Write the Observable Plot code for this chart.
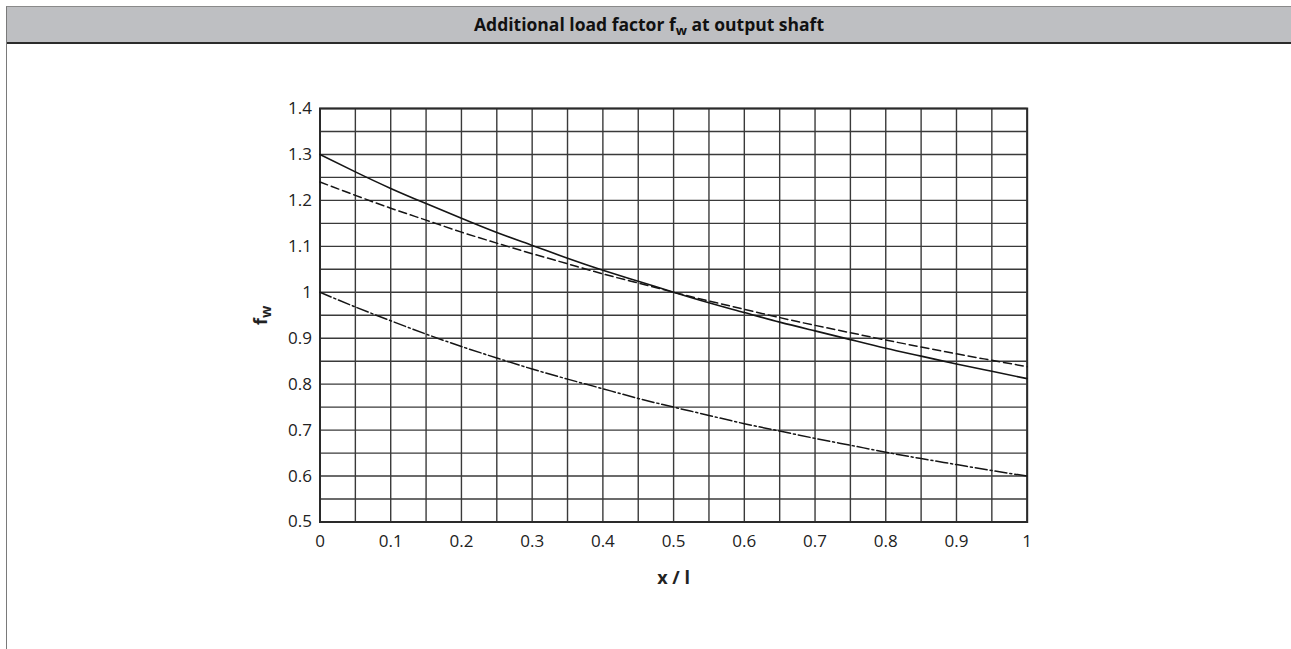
<!DOCTYPE html>
<html><head><meta charset="utf-8">
<script src="https://cdn.jsdelivr.net/npm/d3@7"></script>
<script src="https://cdn.jsdelivr.net/npm/@observablehq/plot@0.6"></script>
<style>
html,body{margin:0;padding:0;background:#fff;width:1291px;height:649px;overflow:hidden;font-family:"Open Sans",sans-serif;}
#box{position:absolute;left:6px;top:6px;right:0;bottom:0;border-left:1.5px solid #7a7a7a;border-top:1px solid #8a8a8a;}
#hdr{height:35px;background:#bebfc2;border-bottom:2px solid #2b2b2b;text-align:center;font-weight:700;font-size:17.5px;line-height:34px;color:#111;}
#hdr sub{font-size:0.75em;line-height:0;vertical-align:-0.3em;}
#chart{position:absolute;left:0;top:50px;}
#chart g[aria-label="x-axis label"] text,#chart g[aria-label="y-axis label"] text{font-weight:700;font-size:18px;}
</style></head>
<body>
<div id="box"><div id="hdr">Additional load factor f<sub>w</sub> at output shaft</div></div>
<div id="chart"></div>
<script>
const xs      = [0,0.05,0.1,0.15,0.2,0.25,0.3,0.35,0.4,0.45,0.5,0.55,0.6,0.65,0.7,0.75,0.8,0.85,0.9,0.95,1];
const solid   = [1.300,1.262,1.226,1.193,1.161,1.130,1.102,1.074,1.048,1.024,1.000,0.977,0.956,0.935,0.916,0.897,0.878,0.861,0.844,0.828,0.812];
const dashed  = [1.240,1.211,1.183,1.157,1.131,1.107,1.084,1.062,1.040,1.020,1.000,0.981,0.963,0.945,0.928,0.912,0.896,0.881,0.866,0.852,0.838];
const dashDot = [1.000,0.968,0.938,0.909,0.882,0.857,0.833,0.811,0.790,0.769,0.750,0.732,0.714,0.698,0.682,0.667,0.652,0.638,0.625,0.612,0.600];
const xTicks  = [0,0.1,0.2,0.3,0.4,0.5,0.6,0.7,0.8,0.9,1];
const yTicks  = [0.5,0.6,0.7,0.8,0.9,1,1.1,1.2,1.3,1.4];
const xGrid   = [0,0.05,0.1,0.15,0.2,0.25,0.3,0.35,0.4,0.45,0.5,0.55,0.6,0.65,0.7,0.75,0.8,0.85,0.9,0.95,1];
const yGrid   = [0.5,0.55,0.6,0.65,0.7,0.75,0.8,0.85,0.9,0.95,1,1.05,1.1,1.15,1.2,1.25,1.3,1.35,1.4];

const tbl = arr => xs.map((x,i)=>({x, y:arr[i]}));
const fmt = d => String(d);

const chart = Plot.plot({
  width:1291, height:599,
  marginTop:58, marginBottom:127.5, marginLeft:319.5, marginRight:264.3,
  style:{fontFamily:'"Open Sans", sans-serif', fontSize:"17px", color:"#222", background:"transparent"},
  x:{domain:[0,1], ticks:xTicks, tickFormat:fmt, tickSize:0, tickPadding:13, label:"x / l", labelAnchor:"center", labelArrow:"none", labelOffset:62},
  y:{domain:[0.5,1.4], ticks:yTicks, tickFormat:fmt, tickSize:0, tickPadding:8, label:"fw", labelAnchor:"center", labelArrow:"none", labelOffset:66},
  marks:[
    Plot.gridX(xGrid, {stroke:"#3a3a3a", strokeOpacity:1, strokeWidth:1.4}),
    Plot.gridY(yGrid, {stroke:"#3a3a3a", strokeOpacity:1, strokeWidth:1.4}),
    Plot.frame({stroke:"#2a2a2a", strokeWidth:2}),
    Plot.line(tbl(solid),   {x:"x", y:"y", curve:"natural", stroke:"#151515", strokeWidth:1.6}),
    Plot.line(tbl(dashed),  {x:"x", y:"y", curve:"natural", stroke:"#151515", strokeWidth:1.5, strokeDasharray:"8,4"}),
    Plot.line(tbl(dashDot), {x:"x", y:"y", curve:"natural", stroke:"#151515", strokeWidth:1.5, strokeDasharray:"12,3,2,3"})
  ]
});
document.getElementById("chart").appendChild(chart);
const yl = chart.querySelector('g[aria-label="y-axis label"] text');
if (yl) {
  yl.textContent = "f";
  const ts = document.createElementNS("http://www.w3.org/2000/svg","tspan");
  ts.setAttribute("dy","0.3em"); ts.setAttribute("font-size","0.8em"); ts.textContent = "w";
  yl.appendChild(ts);
}
const xl = chart.querySelector('g[aria-label="x-axis label"] text');
if (xl) xl.textContent = "x / l";
</script>
</body></html>
